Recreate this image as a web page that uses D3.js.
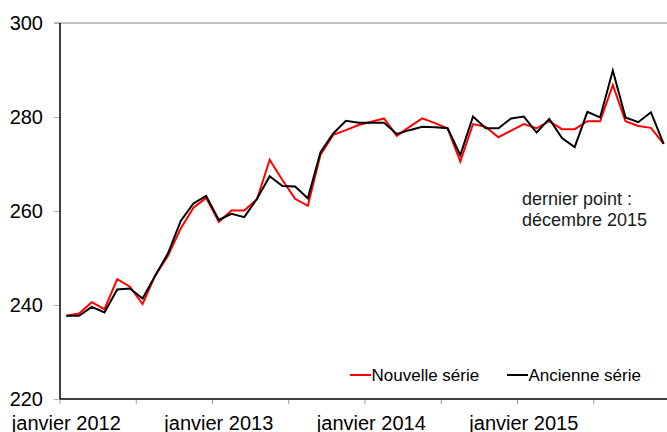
<!DOCTYPE html>
<html>
<head>
<meta charset="utf-8">
<script src="https://cdn.jsdelivr.net/npm/d3@7"></script>
<style>
  html, body { margin: 0; padding: 0; background: #fff; }
  svg { display: block; font-family: "Liberation Sans", Arial, sans-serif; }
</style>
</head>
<body>
<svg id="chart" width="667" height="432"></svg>
<script>
// ---- Data ----
const months = [];
for (let yr = 2012; yr <= 2015; yr++) for (let m = 1; m <= 12; m++) months.push(yr + "-" + String(m).padStart(2, "0"));

const nouvelleSerie = [
  237.7, 238.2, 240.6, 239.1, 245.5, 243.9, 240.2, 246.3, 250.5, 256.3, 260.7, 262.8,
  257.7, 260.1, 260.1, 262.5, 270.9, 266.6, 262.6, 261.1, 272.0, 276.2, 277.2, 278.3,
  279.0, 279.7, 276.0, 277.9, 279.7, 278.7, 277.6, 270.5, 278.5, 277.9, 275.7, 277.1,
  278.5, 277.6, 279.1, 277.4, 277.4, 279.1, 279.1, 286.8, 279.1, 278.1, 277.7, 274.3
];
const ancienneSerie = [
  237.7, 237.7, 239.6, 238.4, 243.3, 243.5, 241.4, 246.3, 251.0, 257.9, 261.6, 263.2,
  258.1, 259.4, 258.7, 262.6, 267.4, 265.3, 265.2, 262.7, 272.5, 276.5, 279.2, 278.8,
  278.8, 278.8, 276.4, 277.2, 277.9, 277.8, 277.6, 271.9, 280.1, 277.6, 277.6, 279.7,
  280.1, 276.7, 279.6, 275.5, 273.6, 281.1, 279.9, 289.9, 279.9, 278.9, 281.0, 274.3
];
const yTicks = [220, 240, 260, 280, 300];
const xTickLabels = ["janvier 2012", "janvier 2013", "janvier 2014", "janvier 2015"];
const xLabelMonths = ["2012-01", "2013-01", "2014-01", "2015-01"];
const seriesNames = ["Nouvelle série", "Ancienne série"];
const seriesColors = ["#ff0000", "#000000"];
const annotation = ["dernier point :", "décembre 2015"];

// ---- Layout ----
const svg = d3.select("#chart");
const plotLeft = 60, plotRight = 670, plotTop = 23, plotBottom = 399;

const x = d3.scaleBand().domain(months).range([plotLeft, plotRight]).padding(0);
const y = d3.scaleLinear().domain([220, 300]).range([plotBottom, plotTop]);
const cx = m => x(m) + x.bandwidth() / 2;

// top gridline at 300
svg.append("line")
  .attr("x1", 54).attr("x2", 667)
  .attr("y1", y(300)).attr("y2", y(300))
  .attr("stroke", "#c0c0c0").attr("stroke-width", 2);

// y axis
const yAxis = d3.axisLeft(y).tickValues(yTicks).tickSize(6).tickPadding(11).tickFormat(d3.format("d"));
const gy = svg.append("g").attr("transform", `translate(${plotLeft},0)`).call(yAxis);
gy.select(".domain").remove();
gy.selectAll(".tick line").attr("stroke", "#b0b0b0");
gy.selectAll(".tick text").attr("font-size", 20).attr("fill", "#000")
  .attr("font-family", "Liberation Sans, Arial, sans-serif");
svg.append("line").attr("x1", plotLeft).attr("x2", plotLeft).attr("y1", plotTop).attr("y2", plotBottom)
  .attr("stroke", "#000").attr("stroke-width", 1.5);

// x axis ticks every 6 months at band boundaries
const tickMonths = months.filter((d, i) => i % 6 === 0);
svg.append("g").selectAll("line").data(tickMonths).join("line")
  .attr("x1", d => x(d)).attr("x2", d => x(d))
  .attr("y1", plotBottom).attr("y2", plotBottom + 5)
  .attr("stroke", "#9a9a9a").attr("stroke-width", 1);
svg.append("line").attr("x1", plotLeft).attr("x2", 667).attr("y1", plotBottom).attr("y2", plotBottom)
  .attr("stroke", "#000").attr("stroke-width", 1.5);

svg.append("g").selectAll("text").data(xLabelMonths).join("text")
  .attr("x", d => cx(d)).attr("y", 429.5)
  .attr("text-anchor", "middle").attr("font-size", 20).attr("fill", "#000")
  .text((d, i) => xTickLabels[i]);

// lines (red first, black on top)
const line = d3.line().x((d, i) => cx(months[i])).y(d => y(d));
[nouvelleSerie, ancienneSerie].forEach((s, k) => {
  svg.append("path").datum(s)
    .attr("d", line)
    .attr("fill", "none")
    .attr("stroke", seriesColors[k])
    .attr("stroke-width", 2)
    .attr("stroke-linejoin", "miter");
});

// annotation
svg.append("g").selectAll("text").data(annotation).join("text")
  .attr("x", 522).attr("y", (d, i) => 204.5 + i * 21)
  .attr("font-size", 18).attr("fill", "#1a1a1a")
  .text(d => d);

// legend
const legendX = [350, 507];
const lg = svg.append("g").selectAll("g").data(seriesNames).join("g")
  .attr("transform", (d, i) => `translate(${legendX[i]},375)`);
lg.append("line").attr("x1", 0).attr("x2", 21).attr("y1", 0).attr("y2", 0)
  .attr("stroke", (d, i) => seriesColors[i]).attr("stroke-width", 2);
lg.append("text").attr("x", 21.5).attr("y", 6)
  .attr("font-size", 17).attr("fill", "#000").text(d => d);
</script>
</body>
</html>
